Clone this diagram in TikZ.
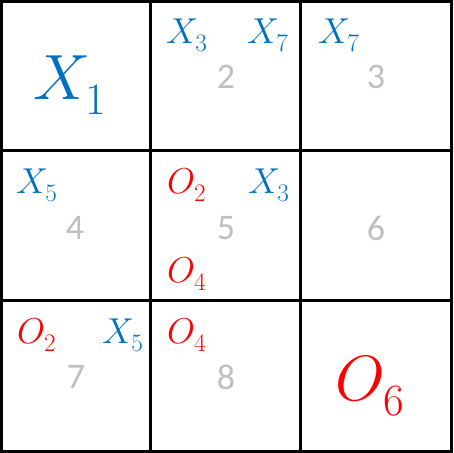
\RequirePackage{fix-cm}
\documentclass[tikz,border=0pt]{standalone}
\usepackage{fontspec}
\usepackage{tikz}
\newfontfamily\digitfont{Carlito}
\definecolor{XBlue}{HTML}{0070C0}
\definecolor{ORed}{HTML}{FF0000}
\definecolor{NumGray}{HTML}{BFBFBF}
\newcommand{\lowsub}[1]{\raisebox{-0.09em}{$\scriptstyle #1$}}

\begin{document}
\begin{tikzpicture}[x=1pt, y=-1pt,
	gridline/.style = {line width=3pt, black},
	xmark/.style = {inner sep=0pt, anchor=base west, text=XBlue, font=\fontsize{36}{40}\selectfont},
	omark/.style = {xmark, text=ORed},
	bigmark/.style = {inner sep=0pt, anchor=base west, font=\fontsize{64}{70}\selectfont},
	cellnum/.style = {inner sep=0pt, text=NumGray, font=\digitfont\fontsize{36}{40}\selectfont},
	]
	
	% ------------------------------------------------
	% Ensure the dimensions of graphic are appropriate
	\useasboundingbox (0,0) rectangle (453,453);
	
	% ------------------------------------------------
	% Grid
	\draw[gridline] (1.5,1.5) rectangle (451.5,451.5);
	\draw[gridline] (150.5,1.5) -- (150.5,451.5);
	\draw[gridline] (300.5,1.5) -- (300.5,451.5);
	\draw[gridline] (1.5,150.5) -- (451.5,150.5);
	\draw[gridline] (1.5,300.5) -- (451.5,300.5);
	
	% ----------------
	% Cell numbers
	\node[cellnum] (NumB) at (226,77)  {2};
	\node[cellnum] (NumC) at (376,77)  {3};
	\node[cellnum] (NumD) at (75,228)  {4};
	\node[cellnum] (NumE) at (226,228) {5};
	\node[cellnum] (NumF) at (376,228) {6};
	\node[cellnum] (NumG) at (76,377)  {7};
	\node[cellnum] (NumH) at (226,377) {8};
	
	%%%%%%%%%%%%%%%%%%%%%%%%%%%%%%%%%%%%%%%%%
	% Marks
	\node[bigmark, text=XBlue] (XOne) at (33,99)  {$X_{\lowsub{1}}$};
	\node[bigmark, text=ORed]  (OSix) at (335,400) {$O_{\lowsub{6}}$};
	
	\node[xmark] (XThreeB) at (166,43) {$X_{\lowsub{3}}$};
	\node[xmark] (XSevenB) at (247,43) {$X_{\lowsub{7}}$};
	\node[xmark] (XSevenC) at (318,43) {$X_{\lowsub{7}}$};
	
	\node[xmark] (XFiveD)  at (16,193)  {$X_{\lowsub{5}}$};
	\node[omark] (OTwoE)   at (167,193) {$O_{\lowsub{2}}$};
	\node[xmark] (XThreeE) at (248,193) {$X_{\lowsub{3}}$};
	\node[omark] (OFourE)  at (167,282) {$O_{\lowsub{4}}$};
	
	\node[omark] (OTwoG)   at (17,343)  {$O_{\lowsub{2}}$};
	\node[xmark] (XFiveG)  at (102,343) {$X_{\lowsub{5}}$};
	\node[omark] (OFourH)  at (167,343) {$O_{\lowsub{4}}$};
	
\end{tikzpicture}
\end{document}
